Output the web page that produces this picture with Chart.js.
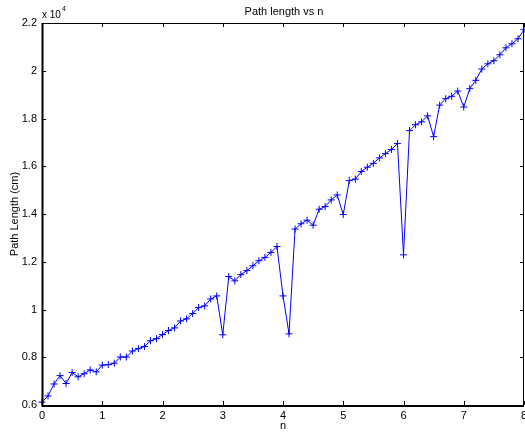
<!DOCTYPE html>
<html>
<head>
<meta charset="utf-8">
<script src="https://cdn.jsdelivr.net/npm/chart.js@4/dist/chart.umd.min.js"></script>
<style>
  html, body { margin: 0; padding: 0; background: #fff; }
  #wrap { width: 525px; height: 433px; }
</style>
</head>
<body>
<div id="wrap"><canvas id="chartPath"></canvas></div>
<script>
// datos (longitud de camino en cm)
const nValues = [];
for (let i = 0; i <= 80; i++) nValues.push(Math.round(i) / 10);
const pathLength = [
  6120, 6380, 6880, 7230, 6900, 7360, 7180, 7310, 7470, 7390,
  7670, 7690, 7750, 8010, 8010, 8260, 8360, 8450, 8690, 8780,
  8950, 9120, 9230, 9520, 9610, 9830, 10080, 10150, 10440, 10570,
  8940, 11380, 11200, 11460, 11630, 11830, 12040, 12180, 12390, 12640,
  10570, 8980, 13370, 13590, 13740, 13530, 14200, 14310, 14590, 14800,
  13980, 15400, 15460, 15780, 15960, 16120, 16350, 16530, 16700, 16950,
  12290, 17490, 17740, 17860, 18110, 17240, 18560, 18830, 18930, 19150,
  18480, 19250, 19600, 20070, 20290, 20420, 20670, 20960, 21130, 21340,
  21720
];
const xTicks = [0, 1, 2, 3, 4, 5, 6, 7, 8];
const yTicks = [6000, 8000, 10000, 12000, 14000, 16000, 18000, 20000, 22000];

const FONT = 'Liberation Sans, Arial, sans-serif';
const points = nValues.map((n, i) => ({ x: n, y: pathLength[i] }));

// marco tipo MATLAB con ticks hacia adentro + titulo y "x 10^4"
const matlabFrame = {
  id: 'matlabFrame',
  afterDraw(chart) {
    const { ctx, chartArea: a, scales } = chart;
    ctx.save();
    ctx.strokeStyle = '#000';
    ctx.lineWidth = 1;
    ctx.strokeRect(a.left + 0.5, a.top + 0.5, a.right - a.left - 1, a.bottom - a.top);
    ctx.lineWidth = 2;
    ctx.beginPath();
    ctx.moveTo(a.left + 0.5, a.top); ctx.lineTo(a.left + 0.5, a.bottom + 1);
    ctx.lineTo(a.right, a.bottom + 1);
    ctx.stroke();
    ctx.lineWidth = 1;
    const len = 4;
    ctx.beginPath();
    xTicks.forEach(v => {
      const px = Math.round(scales.x.getPixelForValue(v)) + 0.5;
      ctx.moveTo(px, a.bottom); ctx.lineTo(px, a.bottom - len);
      ctx.moveTo(px, a.top); ctx.lineTo(px, a.top + len);
    });
    yTicks.forEach(v => {
      const py = Math.round(scales.y.getPixelForValue(v)) + 0.5;
      ctx.moveTo(a.left, py); ctx.lineTo(a.left + len, py);
      ctx.moveTo(a.right, py); ctx.lineTo(a.right - len, py);
    });
    ctx.stroke();
    ctx.fillStyle = '#000';
    ctx.textBaseline = 'alphabetic';
    ctx.font = '11px ' + FONT;
    ctx.textAlign = 'center';
    ctx.fillText('Path length vs n', 284, 15);
    ctx.textAlign = 'left';
    ctx.font = '10px ' + FONT;
    ctx.fillText('x 10', 42, 18);
    ctx.font = '7px ' + FONT;
    ctx.fillText('4', 62, 11);
    ctx.restore();
  }
};

const ctx = document.getElementById('chartPath').getContext('2d');
new Chart(ctx, {
  type: 'line',
  data: {
    datasets: [{
      data: points,
      borderColor: '#0000ff',
      backgroundColor: '#0000ff',
      borderWidth: 1,
      pointStyle: 'cross',
      pointRadius: 3.5,
      pointBorderWidth: 1,
      pointBorderColor: '#0000ff',
      tension: 0,
      clip: false
    }]
  },
  options: {
    responsive: true,
    maintainAspectRatio: false,
    animation: false,
    layout: { autoPadding: false, padding: { top: 23, right: 1, left: 0, bottom: 0 } },
    plugins: { legend: { display: false }, tooltip: { enabled: false }, title: { display: false } },
    scales: {
      x: {
        type: 'linear', min: 0, max: 8,
        afterBuildTicks: s => { s.ticks = xTicks.map(v => ({ value: v })); },
        afterFit: s => { s.height = 28; s.paddingLeft = 0; s.paddingRight = 0; },
        grid: { display: false, drawTicks: false },
        border: { display: false },
        ticks: { color: '#000', padding: 4, font: { family: FONT, size: 11 }, maxRotation: 0 },
        title: { display: true, text: 'n', color: '#000', font: { family: FONT, size: 11 }, padding: { top: 0, bottom: 0 } }
      },
      y: {
        min: 6000, max: 22000,
        afterBuildTicks: s => { s.ticks = yTicks.map(v => ({ value: v })); },
        afterFit: s => { s.width = 42; s.paddingTop = 0; s.paddingBottom = 0; },
        grid: { display: false, drawTicks: false },
        border: { display: false },
        ticks: {
          color: '#000', padding: 5, font: { family: FONT, size: 11 },
          callback: v => String(Math.round(v / 1000) / 10)
        },
        title: { display: true, text: 'Path Length (cm)', color: '#000', font: { family: FONT, size: 11 }, padding: { top: 8, bottom: 0 } }
      }
    }
  },
  plugins: [matlabFrame]
});
</script>
</body>
</html>
